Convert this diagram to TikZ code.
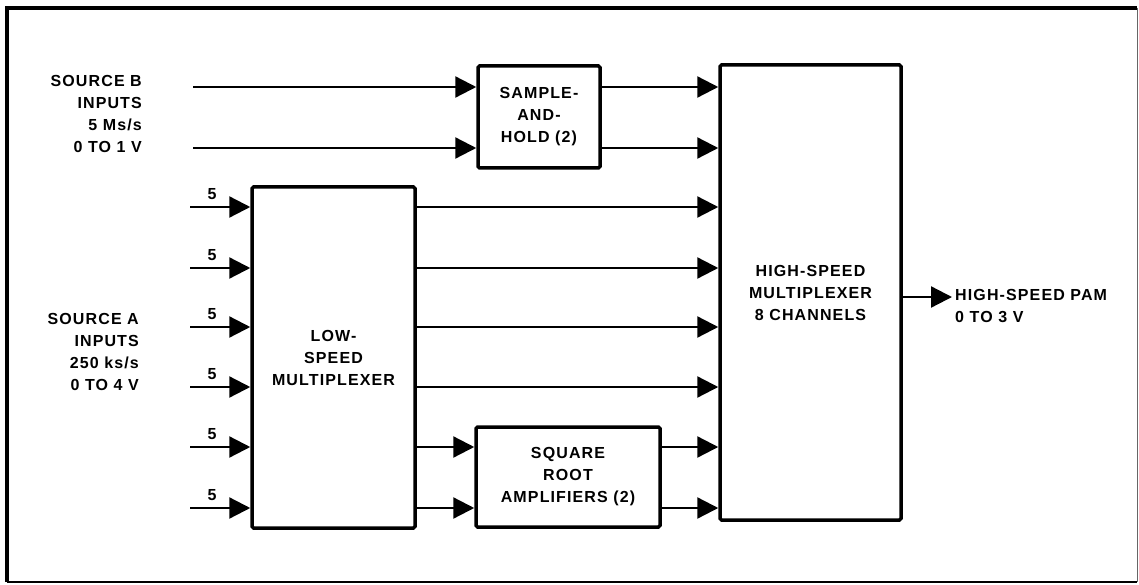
\documentclass[tikz,border=0pt]{standalone}
\usepackage{fontspec}
\setmainfont{Liberation Sans}[LetterSpace=7]
\usetikzlibrary{arrows.meta,calc}
\begin{document}
\begin{tikzpicture}[x=1pt,y=-1pt,
  every node/.style={font=\fontsize{16}{22}\selectfont\bfseries},
  blk/.style={draw,line width=3.5pt,rounded corners=1.5pt,align=center,inner sep=0pt},
  arr/.style={line width=2.3pt,-{Triangle[length=21pt,width=21pt]}},
  lbl/.style={align=right,inner sep=0pt}]
\useasboundingbox (0,0) rectangle (1139,585);
% frame
\draw[line width=3.5pt] (7,582) -- (7,8) -- (1137,8);
\draw[line width=1.5pt] (7,582) -- (1137,582);
\draw[line width=1pt,black!60] (1137,8) -- (1137,582);
% blocks
\node[blk,minimum width=122pt,minimum height=102pt] (sh) at (539,117) {SAMPLE-\\AND-\\HOLD (2)};
\node[blk,minimum width=181pt,minimum height=455pt] (hsm) at (810.5,292.5) {HIGH-SPEED\\MULTIPLEXER\\8 CHANNELS};
\node[blk,minimum width=163pt,minimum height=341pt] (lsm) at (333.5,357.5) {LOW-\\SPEED\\MULTIPLEXER};
\node[blk,minimum width=184pt,minimum height=100pt] (sq) at (568,477) {SQUARE\\ROOT\\AMPLIFIERS (2)};
% labels
\node[lbl,anchor=east] (srcb) at (142,114) {SOURCE B\\INPUTS\\5 Ms/s\\0 TO 1 V};
\node[lbl,anchor=east] (srca) at (139,352) {SOURCE A\\INPUTS\\250 ks/s\\0 TO 4 V};
\node[align=left,inner sep=0pt,anchor=west] (out) at (955,306) {HIGH-SPEED PAM\\0 TO 3 V};
% source B inputs
\coordinate (b1) at (193,87);
\coordinate (b2) at (193,148);
\draw[arr] (b1) -- (b1 -| sh.west);
\draw[arr] (b2) -- (b2 -| sh.west);
\draw[arr] (sh.east |- b1) -- (b1 -| hsm.west);
\draw[arr] (sh.east |- b2) -- (b2 -| hsm.west);
% source A inputs
\foreach \i/\yy in {1/207,2/268,3/327,4/387,5/447,6/508}{
  \coordinate (a\i) at (190,\yy);
  \draw[arr] (a\i) -- (a\i -| lsm.west);
  \node[inner sep=0pt] (n\i) at (212,\yy-13) {5};
}
\foreach \i in {1,2,3,4}{
  \draw[arr] (lsm.east |- a\i) -- (a\i -| hsm.west);
}
\foreach \i in {5,6}{
  \draw[arr] (lsm.east |- a\i) -- (a\i -| sq.west);
  \draw[arr] (sq.east |- a\i) -- (a\i -| hsm.west);
}
% output
\coordinate (o) at (952,297);
\draw[arr] (hsm.east |- o) -- (o);
\end{tikzpicture}
\end{document}
